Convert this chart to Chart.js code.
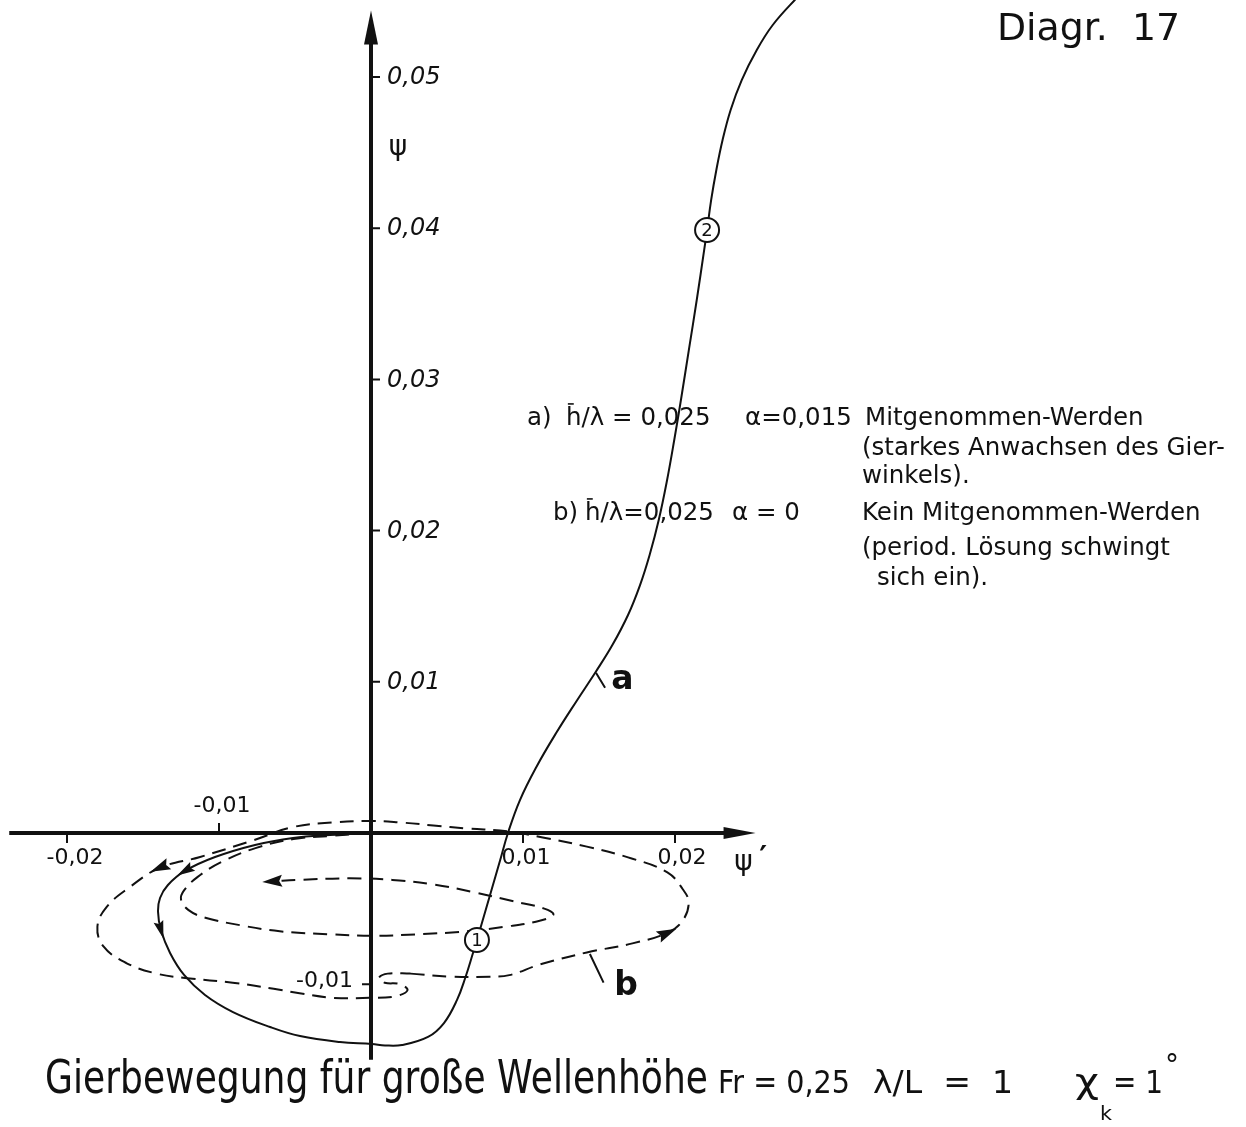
<!DOCTYPE html>
<html>
<head>
<meta charset="utf-8">
<script src="https://cdn.jsdelivr.net/npm/chart.js@4.4.1/dist/chart.umd.min.js"></script>
<style>
  html, body { margin: 0; padding: 0; background: #fff; }
  canvas { display: block; }
</style>
</head>
<body>
<canvas id="diagram" width="1246" height="1127"></canvas>
<script>
// Curve a: h/λ = 0,025, α = 0,015 — yaw rate ψ' (x) against yaw angle ψ (y)
const aPsiDot = [0, -0.00270, -0.00513, -0.00763, -0.01026, -0.01224, -0.01336, -0.01388, -0.01401, -0.01382,
  -0.01322, -0.01230, -0.01092, -0.00908, -0.00664, -0.00467, -0.00204, 0.00007, 0.00092, 0.00204,
  0.00375, 0.00480, 0.00566, 0.00622, 0.00671, 0.00697, 0.00722, 0.00789, 0.00850, 0.00901,
  0.00980, 0.01088, 0.01218, 0.01357, 0.01478, 0.01588, 0.01691, 0.01770, 0.01833, 0.01893,
  0.01948, 0.01995, 0.02039, 0.02091, 0.02143, 0.02192, 0.02211, 0.02238, 0.02272, 0.02313,
  0.02366, 0.02439, 0.02538, 0.02643, 0.02788, 0.02920];
const aPsi = [0, -0.00013, -0.00033, -0.00079, -0.00159, -0.00251, -0.00344, -0.00430, -0.00522, -0.00642,
  -0.00794, -0.00939, -0.01071, -0.01184, -0.01283, -0.01343, -0.01382, -0.01395, -0.01405, -0.01402,
  -0.01349, -0.01257, -0.01104, -0.00952, -0.00794, -0.00708, -0.00622, -0.00390, -0.00179, 0,
  0.00218, 0.00437, 0.00661, 0.00880, 0.01065, 0.01243, 0.01442, 0.01640, 0.01839, 0.02070,
  0.02335, 0.02599, 0.02864, 0.03194, 0.03525, 0.03856, 0.03988, 0.04187, 0.04385, 0.04583,
  0.04782, 0.04980, 0.05179, 0.05344, 0.05509, 0.05642];

// Curve b: h/λ = 0,025, α = 0 — first swing from the start
const bStartPsiDot = [0, -0.0027, -0.0051, -0.0076, -0.0098, -0.0114, -0.0123, -0.0125, -0.0120, -0.0109,
  -0.0086, -0.0060, -0.0027, 0, 0.0030, 0.0063, 0.0088, 0.0111, 0.0120, 0.0114,
  0.0093, 0.0067, 0.0041, 0.0014, -0.0014, -0.0047, -0.0065];
const bStartPsi = [0, -0.0002, -0.0004, -0.0010, -0.0019, -0.0029, -0.0038, -0.0044, -0.0051, -0.0056,
  -0.0061, -0.0065, -0.0067, -0.0068, -0.0067, -0.0065, -0.0062, -0.0058, -0.0054, -0.0050,
  -0.0045, -0.0039, -0.0034, -0.0031, -0.0030, -0.0031, -0.0032];

// Curve b: the periodic swing it settles into
const bCyclePsiDot = [0.0026, 0.0052, 0.0078, 0.0091, 0.0111, 0.0142, 0.0172, 0.0195, 0.0205, 0.0209,
  0.0205, 0.0195, 0.0172, 0.0142, 0.0113, 0.0091, 0.0063, 0.0041, 0.0019, -0.0001,
  -0.0025, -0.0051, -0.0078, -0.0113, -0.0139, -0.0159, -0.0174, -0.0180, -0.0176, -0.0161,
  -0.0141, -0.0121, -0.0091, -0.0064, -0.0047, -0.0025, -0.0001, 0.0016, 0.0024, 0.0019,
  0.0009, 0.0005, 0.0011, 0.0026];
const bCyclePsi = [-0.0093, -0.0095, -0.0095, -0.0094, -0.0087, -0.0079, -0.0073, -0.0066, -0.0058, -0.0046,
  -0.0037, -0.0026, -0.0017, -0.0009, -0.0003, 0.0001, 0.0003, 0.0005, 0.0007, 0.0008,
  0.0007, 0.0004, -0.0005, -0.0016, -0.0023, -0.0036, -0.0049, -0.0062, -0.0075, -0.0086,
  -0.0093, -0.0096, -0.0099, -0.0103, -0.0106, -0.0109, -0.0109, -0.0108, -0.0104, -0.0100,
  -0.0099, -0.0096, -0.0093, -0.0093];

// Numbered time marks on curve a
const markPsiDot = [0.00697, 0.02211];
const markPsi = [-0.00708, 0.03988];
const markLabels = ['1', '2'];

// Axis ticks
const xTicks = [-0.02, -0.01, 0.01, 0.02];
const yTicks = [-0.01, 0.01, 0.02, 0.03, 0.04, 0.05];

const toPoints = (xs, ys) => xs.map((x, i) => ({ x, y: ys[i] }));
const fmt = v => v.toFixed(2).replace('.', ',');

const INK = '#111';
const FONT = '"DejaVu Sans", sans-serif';

// Draws text from (x, y); w > 0 squeezes or widens it to that width
function fitText(ctx, txt, x, y, w, font) {
  ctx.save();
  ctx.font = font;
  const m = ctx.measureText(txt).width;
  ctx.translate(x, y);
  if (w) ctx.scale(w / m, 1);
  ctx.textAlign = 'left';
  ctx.textBaseline = 'alphabetic';
  ctx.fillText(txt, 0, 0);
  ctx.restore();
}

// "h̄/λ" style term: an h with a bar over it, followed by the rest
function hBarText(ctx, rest, x, y, size) {
  ctx.save();
  ctx.font = size + 'px ' + FONT;
  ctx.textAlign = 'left';
  ctx.textBaseline = 'alphabetic';
  const hw = ctx.measureText('h').width;
  ctx.fillText('h', x, y);
  ctx.lineWidth = 1.6;
  ctx.beginPath();
  ctx.moveTo(x + hw * 0.12, y - size * 0.86);
  ctx.lineTo(x + hw * 0.5, y - size * 0.86);
  ctx.stroke();
  ctx.fillText(rest, x + hw, y);
  ctx.restore();
}

function arrowHead(ctx, x, y, ang, len, half) {
  ctx.save();
  ctx.translate(x, y);
  ctx.rotate(ang);
  ctx.beginPath();
  ctx.moveTo(len / 2, 0);
  ctx.lineTo(-len / 2, half);
  ctx.lineTo(-len / 2 * 0.7, 0);
  ctx.lineTo(-len / 2, -half);
  ctx.closePath();
  ctx.fill();
  ctx.restore();
}

// Axes through the origin with arrow tips, ticks, labels and annotations
const axesPlugin = {
  id: 'crossAxes',
  beforeDatasetsDraw(chart) {
    const { ctx, scales: { x, y } } = chart;
    const x0 = x.getPixelForValue(0), y0 = y.getPixelForValue(0);
    const xl = x.getPixelForValue(-0.0238), xr = x.getPixelForValue(0.0253);
    const yb = y.getPixelForValue(-0.0150), yt = y.getPixelForValue(0.0544);
    ctx.save();
    ctx.strokeStyle = INK; ctx.fillStyle = INK;
    ctx.lineWidth = 4;
    ctx.beginPath();
    ctx.moveTo(xl, y0); ctx.lineTo(xr - 20, y0);
    ctx.moveTo(x0, yb); ctx.lineTo(x0, yt + 24);
    ctx.stroke();
    // arrow tips
    ctx.beginPath();
    ctx.moveTo(xr, y0); ctx.lineTo(xr - 32, y0 - 6); ctx.lineTo(xr - 32, y0 + 6); ctx.closePath();
    ctx.fill();
    ctx.beginPath();
    ctx.moveTo(x0, yt); ctx.lineTo(x0 - 7, yt + 34); ctx.lineTo(x0 + 7, yt + 34); ctx.closePath();
    ctx.fill();

    // tick marks
    ctx.lineWidth = 2;
    ctx.beginPath();
    xTicks.forEach(v => {
      const px = x.getPixelForValue(v);
      const up = v === -0.01;
      ctx.moveTo(px, y0); ctx.lineTo(px, up ? y0 - 10 : y0 + 10);
    });
    yTicks.forEach(v => {
      const py = y.getPixelForValue(v);
      ctx.moveTo(x0, py); ctx.lineTo(v < 0 ? x0 - 9 : x0 + 9, py);
    });
    ctx.stroke();

    // tick labels
    ctx.textBaseline = 'middle';
    xTicks.forEach(v => {
      const px = x.getPixelForValue(v);
      const up = v === -0.01;
      ctx.font = '22px ' + FONT;
      ctx.textAlign = 'center';
      ctx.fillText(fmt(v), px + (v === -0.02 ? 8 : v === 0.02 ? 7 : 3), up ? y0 - 27 : y0 + 25);
    });
    yTicks.forEach(v => {
      const py = y.getPixelForValue(v);
      if (v < 0) {
        ctx.font = '22px ' + FONT;
        ctx.textAlign = 'right';
        ctx.fillText(fmt(v), x0 - 18, py - 3);
      } else {
        ctx.font = 'italic 24px ' + FONT;
        ctx.textAlign = 'left';
        ctx.fillText(fmt(v), x0 + 16, py + 1);
      }
    });
    // axis names
    ctx.font = '28px ' + FONT;
    ctx.textAlign = 'center';
    ctx.fillText('ψ', x0 + 27, y.getPixelForValue(0.0453));
    ctx.fillText('ψ', x.getPixelForValue(0.0245), y0 + 30);
    ctx.font = 'bold 30px ' + FONT;
    ctx.fillText('\u2032', x.getPixelForValue(0.0258), y0 + 26);
    ctx.restore();
  },
  afterDatasetsDraw(chart) {
    const { ctx, scales: { x, y } } = chart;
    const px = v => x.getPixelForValue(v), py = v => y.getPixelForValue(v);
    ctx.save();
    ctx.fillStyle = INK; ctx.strokeStyle = INK;

    // direction arrows along the trajectories
    const arrowAt = (xs, ys, i, len, half) => {
      const j0 = Math.max(0, i - 1), j1 = Math.min(xs.length - 1, i + 1);
      const ang = Math.atan2(py(ys[j1]) - py(ys[j0]), px(xs[j1]) - px(xs[j0]));
      arrowHead(ctx, px(xs[i]), py(ys[i]), ang, len, half);
    };
    arrowAt(aPsiDot, aPsi, 5, 18, 5);
    arrowAt(aPsiDot, aPsi, 9, 18, 5);
    arrowAt(bCyclePsiDot, bCyclePsi, 7, 20, 6);
    arrowAt(bCyclePsiDot, bCyclePsi, 24, 20, 6);
    arrowAt(bStartPsiDot, bStartPsi, bStartPsiDot.length - 1, 20, 6);

    // numbers inside the time marks
    ctx.font = '18px ' + FONT;
    ctx.textAlign = 'center'; ctx.textBaseline = 'middle';
    markLabels.forEach((t, i) => ctx.fillText(t, px(markPsiDot[i]), py(markPsi[i]) + 1));

    // curve names with leader strokes
    ctx.lineWidth = 2;
    ctx.beginPath();
    ctx.moveTo(px(0.0148), py(0.0106)); ctx.lineTo(px(0.0154), py(0.0096));
    ctx.moveTo(px(0.0144), py(-0.0080)); ctx.lineTo(px(0.0153), py(-0.0099));
    ctx.stroke();
    ctx.font = 'bold 33px ' + FONT;
    ctx.textAlign = 'left'; ctx.textBaseline = 'alphabetic';
    ctx.fillText('a', px(0.0158), py(0.0095));
    ctx.fillText('b', px(0.0160), py(-0.0107));

    // parameter legend
    const f = '24.5px ' + FONT;
    fitText(ctx, 'a)', 527, 425, 0, f);
    hBarText(ctx, '/λ = 0,025', 566, 425, 24.5);
    fitText(ctx, 'α=0,015', 745, 425, 0, f);
    fitText(ctx, 'Mitgenommen-Werden', 865, 425, 0, f);
    fitText(ctx, '(starkes Anwachsen des Gier-', 862, 455, 0, f);
    fitText(ctx, 'winkels).', 862, 483, 0, f);
    fitText(ctx, 'b)', 553, 520, 0, f);
    hBarText(ctx, '/λ=0,025', 585, 520, 24.5);
    fitText(ctx, 'α = 0', 732, 520, 0, f);
    fitText(ctx, 'Kein Mitgenommen-Werden', 862, 520, 0, f);
    fitText(ctx, '(period. Lösung schwingt', 862, 555, 0, f);
    fitText(ctx, 'sich ein).', 877, 585, 0, f);

    // headings
    fitText(ctx, 'Diagr.  17', 997, 40, 183, '38px ' + FONT);
    fitText(ctx, 'Gierbewegung für große Wellenhöhe', 45, 1093, 663, '46px ' + FONT);
    fitText(ctx, 'Fr = 0,25', 718, 1093, 132, '32px ' + FONT);
    fitText(ctx, 'λ/L  =  1', 873, 1093, 140, '32px ' + FONT);
    fitText(ctx, 'χ', 1075, 1093, 24, '34px ' + FONT);
    fitText(ctx, 'k', 1100, 1120, 12, '20px ' + FONT);
    fitText(ctx, '= 1', 1113, 1093, 50, '32px ' + FONT);
    fitText(ctx, '°', 1165, 1075, 14, '30px ' + FONT);
    ctx.restore();
  }
};

const lineSet = (label, xs, ys, dash) => ({
  label,
  data: toPoints(xs, ys),
  showLine: true,
  borderColor: INK,
  borderWidth: 2,
  borderDash: dash,
  pointRadius: 0,
  tension: 0.4,
  fill: false,
  order: 2
});

new Chart(document.getElementById('diagram'), {
  type: 'scatter',
  data: {
    datasets: [
      {
        label: 'marks',
        data: toPoints(markPsiDot, markPsi),
        pointRadius: 12,
        pointHoverRadius: 12,
        pointBackgroundColor: '#fff',
        pointBorderColor: INK,
        pointBorderWidth: 2,
        order: 0
      },
      lineSet('a', aPsiDot, aPsi, []),
      lineSet('b', bStartPsiDot, bStartPsi, [14, 8]),
      lineSet('b', bCyclePsiDot, bCyclePsi, [14, 8])
    ]
  },
  options: {
    responsive: false,
    animation: false,
    events: [],
    layout: { padding: 0, autoPadding: false },
    plugins: { legend: { display: false }, tooltip: { enabled: false } },
    scales: {
      x: { type: 'linear', min: -0.024408, max: 0.057566, display: false },
      y: { type: 'linear', min: -0.019444, max: 0.055093, display: false }
    }
  },
  plugins: [axesPlugin]
});
</script>
</body>
</html>
